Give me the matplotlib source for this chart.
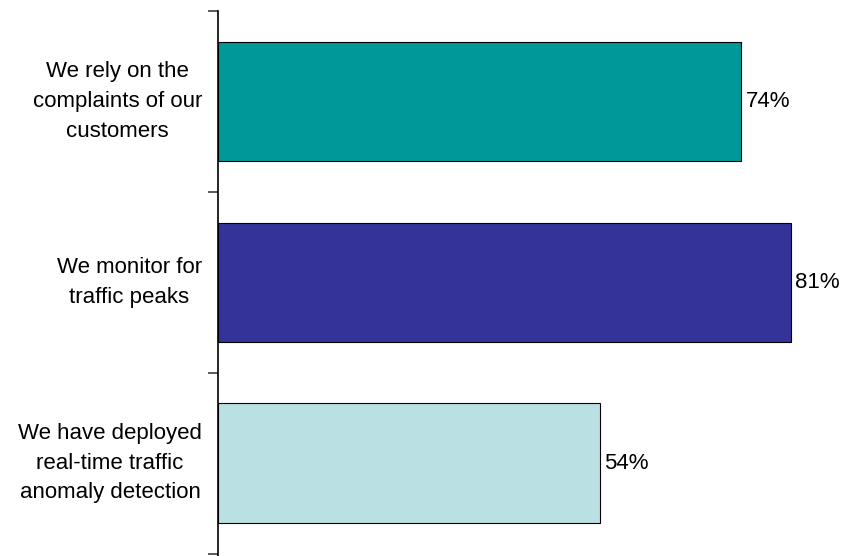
import matplotlib.pyplot as plt
import matplotlib.transforms as mtransforms
import numpy as np

plt.rcParams['font.family'] = ['Liberation Sans', 'DejaVu Sans']

categories = ["We rely on the\ncomplaints of our\ncustomers",
              "We monitor for\ntraffic peaks",
              "We have deployed\nreal-time traffic\nanomaly detection"]
values = [74, 81, 54]
value_labels = ["74%", "81%", "54%"]
colors = ["#009999", "#333399", "#BBE0E3"]

fig = plt.figure(figsize=(8.42, 5.56), dpi=100)
ax = fig.add_axes([218 / 842, 0, 1 - 218 / 842, 545 / 556])

y = np.arange(len(categories))
ax.barh(y, values, height=0.66, color=colors, edgecolor="black", linewidth=0.8)

for yi, v, lab in zip(y, values, value_labels):
    ax.text(v + 0.6, yi, lab, va="center", ha="left", fontsize=16)

ax.set_xlim(0, (842 - 218) / 7.07)
ax.set_ylim(2.5 + 2.5 / 182.5, -0.5)

for s in ["top", "right", "bottom"]:
    ax.spines[s].set_visible(False)
ax.spines["left"].set_linewidth(1.2)
ax.set_xticks([])

ax.set_yticks([-0.5, 0.5, 1.5, 2.5])
ax.set_yticklabels([])
ax.tick_params(axis="y", which="major", length=7, width=1.2, color="#404040")

# category labels: right edge ~16px left of the axis, lines centred
offset = mtransforms.ScaledTranslation(-16 / 100, 0, fig.dpi_scale_trans)
trans = mtransforms.blended_transform_factory(ax.transAxes, ax.transData) + offset
for yi, cat in zip(y, categories):
    ax.text(0, yi, cat, transform=trans, ha="right", va="center",
            multialignment="center", fontsize=16, linespacing=1.55)

fig.savefig("out.png", dpi=100)
